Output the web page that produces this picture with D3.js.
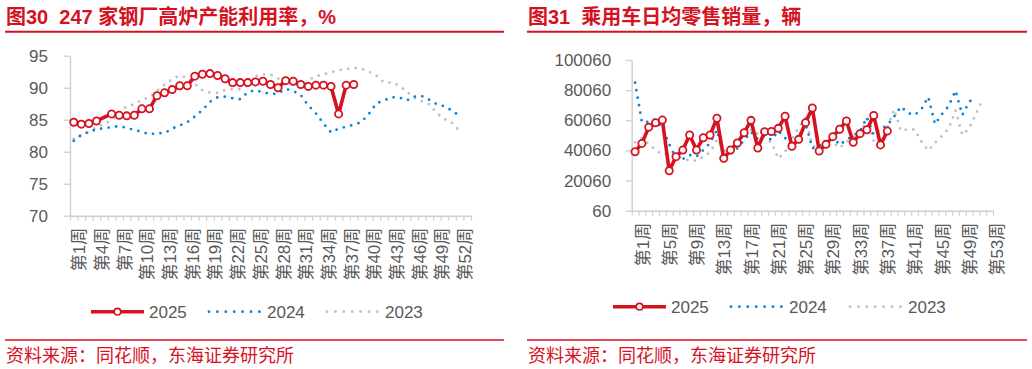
<!DOCTYPE html>
<html><head><meta charset="utf-8">
<script src="https://cdn.jsdelivr.net/npm/d3@7"></script>
<style>
body{margin:0;background:#fff}
svg{display:block}
text{font-family:"Liberation Sans","Noto Sans CJK SC",sans-serif}
</style>
</head><body>
<svg id="c" width="1032" height="369"></svg>
<script>
// ---------- Data: 247 steel mills blast furnace utilization (%) ----------
const furnaceWeeks = d3.range(1, 54).map(i => `第${i}周`);
const furnaceYTicks = [70, 75, 80, 85, 90, 95];
const furnace2025 = [84.6, 84.3, 84.4, 84.8, null, 85.9, 85.7, 85.6, 85.7, 86.7, 86.7, 88.75, 89.2, 89.7, 90.3, 90.3, 91.8, 92.1, 92.2, 91.9, 91.4, 90.8, 90.8, 90.8, 90.9, 91.0, 90.5, 90.0, 91.1, 91.0, 90.5, 90.2, 90.4, 90.4, 90.2, 85.9, 90.4, 90.5];
const furnace2024 = [81.7, 82.6, 83.1, 83.5, 83.65, 83.85, 84.0, 83.7, 83.4, 83.1, 82.7, 82.9, 82.9, 83.6, 84.1, 84.6, 85.5, 86.5, 87.8, 88.5, 88.6, 88.35, 88.2, 89.3, 89.6,
  89.3, 89.0, 89.1, 89.8, 89.5, 88.85, 87.2, 86.0, 84.4, 83.0, 83.6, 83.9, 84.2, 84.6, 85.9, 87.55, 88.0, 88.5, 88.5, 88.0, 88.6, 88.7, 88.1, 87.4, 87.1, 86.4, 85.6];
const furnace2023 = [82.0, 82.6, 83.1, 83.8, 84.35, 84.9, 86.0, 87.1, 87.4, 88.1, 88.5, 89.5, 90.5, 91.3, 91.9, 91.5, 90.6, 89.6, 89.25, 89.2, 89.65, 89.8, 89.75, 90.4, 91.8,
  92.1, 92.05, 91.45, 91.05, 90.5, 90.1, 91.2, 91.75, 92.1, 92.4, 92.75, 92.9, 93.1, 93.0, 92.5, 91.9, 90.8, 90.8, 90.35, 89.4, 88.4, 87.9, 87.4, 86.0, 85.1, 84.5, 83.2];

// ---------- Data: passenger car daily average retail sales (units) ----------
const carWeeks = d3.range(1, 54).map(i => `第${i}周`);
const carYTicks = [60, 20060, 40060, 60060, 80060, 100060];
const car2025 = [39200, 44700, 55500, 58400, 60200, 26600, 35900, 40300, 50300, 40300, 48500, 50300, 61400, 34800, 40300, 45000, 51800, 60000, 41700, 52500,
  52600, 54700, 62700, 42800, 47400, 58500, 68200, 39700, 44100, 49200, 54100, 59600, 45400, 51200, 53800, 63300, 43700, 52900];
const car2024 = [85000, 58700, 59100, 60500, 54500, 44300, 34500, 34300, 37000, 35900, 40300, 45000, 53600, 36000, 38000, 41500, 47000, 52300, 47600, 49900,
  47000, 52900, 48500, 41000, 49200, 58000, 41400, 43000, 44800, 49200, 43700, 47000, 49900, 52700, 62000, 50300, 54500, 56700, 62500, 69100,
  64900, 63600, 67300, 75500, 57500, 64000, 69500, 79700, 63600, 72200, 76200];
const car2023 = [45400, 48300, 44500, 40300, 37200, 38100, 36500, 34600, 33300, 33300, 35900, 38900, 47000, 40300, 38000, 44500, 52000, 53800, 51000, 47500,
  45500, 34600, 39200, 47000, 55400, 61600, 43700, 40300, 47400, 45200, 41700, 45600, 48700, 51400, 60900, 46300, 47000, 55400, 67300, 53000,
  54000, 54000, 46000, 40000, 45200, 49600, 54700, 66500, 50300, 54700, 64200, 74200];

const seriesNames = ["2025", "2024", "2023"];

// ---------- Styling ----------
const RED = "#d5121f", BLUE = "#0a82dc", GRAY = "#bfbfbf", AXIS = "#d0d0d0", TXT = "#595959";

const svg = d3.select("#c");
svg.append("rect").attr("width", 1032).attr("height", 369).attr("fill", "#fff");

function panel(o) {
  const g = svg.append("g");
  // title
  g.append("text").attr("x", o.tx).attr("y", 24).attr("fill", RED)
    .attr("font-size", 20).attr("font-weight", "bold").attr("xml:space", "preserve")
    .text(o.title);
  g.append("line").attr("x1", o.rx0).attr("x2", o.rx1).attr("y1", 31.7).attr("y2", 31.7)
    .attr("stroke", RED).attr("stroke-width", 2);
  g.append("line").attr("x1", o.rx0).attr("x2", o.rx1).attr("y1", 340).attr("y2", 340)
    .attr("stroke", RED).attr("stroke-width", 1.6);
  g.append("text").attr("x", o.tx).attr("y", 361.5).attr("fill", RED)
    .attr("font-size", 18).text("资料来源：同花顺，东海证券研究所");

  const x = d3.scaleBand().domain(o.cats).range([o.x0, o.x1]);
  const xb = d3.scaleLinear().domain([0, o.cats.length]).range([o.x0, o.x1]);
  const y = d3.scaleLinear().domain([o.yTicks[0], o.yTicks[o.yTicks.length - 1]]).range([o.yb, o.yt]);

  // y axis
  const ya = g.append("g").attr("transform", `translate(${o.x0},0)`)
    .call(d3.axisLeft(y).tickValues(o.yTicks).tickSize(6).tickSizeOuter(0).tickPadding(o.ypad).tickFormat(d => d));
  ya.select(".domain").attr("stroke", AXIS).attr("stroke-width", 1.4);
  ya.selectAll(".tick line").attr("stroke", AXIS).attr("stroke-width", 1.4);
  ya.selectAll(".tick text").attr("fill", TXT).attr("font-size", 17)
    .attr("font-family", '"Liberation Sans",sans-serif');

  // x axis (tick marks between categories)
  const xa = g.append("g").attr("transform", `translate(0,${o.yb})`)
    .call(d3.axisBottom(xb).tickValues(d3.range(0, o.cats.length + 1)).tickSize(5).tickSizeOuter(0).tickFormat(""));
  xa.select(".domain").attr("stroke", AXIS).attr("stroke-width", 1.4);
  xa.selectAll(".tick line").attr("stroke", AXIS).attr("stroke-width", 1.2);

  // x labels
  g.append("g").selectAll("text")
    .data(o.cats.filter((c, i) => i % o.step === 0))
    .join("text")
    .attr("transform", d => `translate(${x(d) + x.bandwidth() / 2 + o.loff},${o.yb + 12}) rotate(-90)`)
    .attr("text-anchor", "end").attr("dy", "0.35em")
    .attr("fill", TXT).attr("font-size", 17)
    .text(d => d);

  const pts = arr => arr.map((v, i) => ({ c: o.cats[i], v })).filter(p => p.v != null);
  const line = d3.line().x(p => x(p.c) + x.bandwidth() / 2).y(p => y(p.v));

  // dotted series
  [[o.s2023, GRAY], [o.s2024, BLUE]].forEach(([arr, col]) => {
    g.append("path").attr("d", line(pts(arr))).attr("fill", "none")
      .attr("stroke", col).attr("stroke-width", 2.8).attr("stroke-linecap", "round")
      .attr("stroke-dasharray", "0,7.6");
  });
  // 2025
  const p25 = pts(o.s2025);
  g.append("path").attr("d", line(p25)).attr("fill", "none").attr("stroke", RED)
    .attr("stroke-width", 3.6).attr("stroke-linejoin", "round");
  g.append("g").selectAll("circle").data(p25).join("circle")
    .attr("cx", p => x(p.c) + x.bandwidth() / 2).attr("cy", p => y(p.v)).attr("r", 3.6)
    .attr("fill", "#fff").attr("stroke", RED).attr("stroke-width", 1.8);

  // legend
  const L = o.legend, ly = o.ly;
  const lg = g.append("g");
  lg.append("line").attr("x1", L[0]).attr("x2", L[0] + 53).attr("y1", ly).attr("y2", ly)
    .attr("stroke", RED).attr("stroke-width", 3.6);
  lg.append("circle").attr("cx", L[0] + 26.5).attr("cy", ly).attr("r", 3.3)
    .attr("fill", "#fff").attr("stroke", RED).attr("stroke-width", 1.6);
  [[L[1], BLUE], [L[2], GRAY]].forEach(([lx, col]) => {
    lg.append("line").attr("x1", lx).attr("x2", lx + 51).attr("y1", ly).attr("y2", ly)
      .attr("stroke", col).attr("stroke-width", 2.8).attr("stroke-linecap", "round")
      .attr("stroke-dasharray", "0,8.4");
  });
  seriesNames.forEach((n, i) => {
    lg.append("text").attr("x", L[i] + (i === 0 ? 58 : 58)).attr("y", ly + 6.3)
      .attr("fill", TXT).attr("font-size", 17).text(n);
  });
}

panel({
  title: "图30  247 家钢厂高炉产能利用率，%",
  tx: 6, rx0: 5, rx1: 504,
  cats: furnaceWeeks, step: 3, loff: 5.5,
  x0: 70, x1: 471, yt: 55.7, yb: 215.7, ypad: 16,
  yTicks: furnaceYTicks,
  s2025: furnace2025, s2024: furnace2024, s2023: furnace2023,
  legend: [91, 209, 327], ly: 311.7
});

panel({
  title: "图31  乘用车日均零售销量，辆",
  tx: 528, rx0: 527, rx1: 1027,
  cats: carWeeks, step: 4, loff: 7.5,
  x0: 631.7, x1: 993, yt: 60, yb: 210.7, ypad: 14.5,
  yTicks: carYTicks,
  s2025: car2025, s2024: car2024, s2023: car2023,
  legend: [613, 731, 850], ly: 306.7
});
</script>
</body></html>
